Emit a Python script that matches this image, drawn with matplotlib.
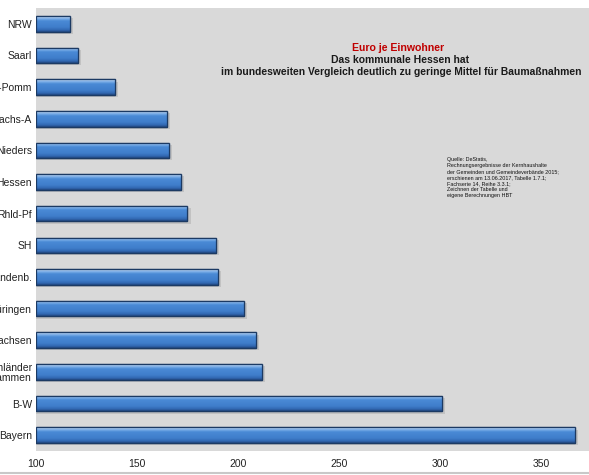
import numpy as np
import matplotlib.pyplot as plt
from matplotlib.colors import LinearSegmentedColormap

plt.rcParams['font.family'] = ['Liberation Sans', 'DejaVu Sans']

# Bundeslaender, Euro je Einwohner (top to bottom)
laender = ['NRW', 'Saarl', 'Meck-Pomm', 'Sachs-A', 'Nieders', 'Hessen', 'Rhld-Pf',
           'SH', 'Brandenb.', 'Thüringen', 'Sachsen', 'Flächenländer\nzusammen',
           'B-W', 'Bayern']
euro = [117, 121, 139, 165, 166, 172, 175, 189, 190, 203, 209, 212, 301, 367]

xticks = [100, 150, 200, 250, 300, 350]

title1 = 'Euro je Einwohner'
title2 = 'Das kommunale Hessen hat'
title3 = 'im bundesweiten Vergleich deutlich zu geringe Mittel für Baumaßnahmen'
quelle = ('Quelle: DeStatis,\n'
          'Rechnungsergebnisse der Kernhaushalte\n'
          'der Gemeinden und Gemeindeverbände 2015;\n'
          'erschienen am 13.06.2017, Tabelle 1.7.1;\n'
          'Fachserie 14, Reihe 3.3.1;\n'
          'Zeichnen der Tabelle und\n'
          'eigene Berechnungen HBT')

fig = plt.figure(figsize=(5.89, 4.75), dpi=100)
fig.patch.set_facecolor('white')
ax = fig.add_axes([36/589, 24/475, 1 - 36/589, 443/475])
ax.set_facecolor('#d9d9d9')

y = np.arange(len(laender))
h = 0.49
base = 100

# soft shadow under the bars
ax.barh(y + 0.07, np.array(euro) - base + 1.5, left=base, height=h,
        color='#c2c2c2', zorder=1)

bars = ax.barh(y, np.array(euro) - base, left=base, height=h,
               color='#3f7dca', edgecolor='#1c3a63', linewidth=0.9, zorder=2)

# bevel-like vertical gradient inside each bar
cmap = LinearSegmentedColormap.from_list('bev', [(0, '#cfe0f6'), (0.15, '#7fb0e8'),
                                                 (0.3, '#4a8ad6'), (0.7, '#3f7dca'),
                                                 (0.88, '#3268b2'), (1, '#22477f')])
grad = np.linspace(0, 1, 64).reshape(-1, 1)
for b, yy, v in zip(bars, y, euro):
    im = ax.imshow(grad, cmap=cmap, aspect='auto', zorder=2.5,
                   extent=[base, v, yy + h/2, yy - h/2], interpolation='bilinear')
    im.set_clip_path(b)
    ax.barh(yy, v - base, left=base, height=h, color='none',
            edgecolor='#1c3a63', linewidth=0.9, zorder=3)

ax.set_xlim(base, 373.8)
ax.set_ylim(len(laender) - 0.5, -0.5)
ax.set_yticks(y)
ax.set_yticklabels(laender, fontsize=7.5, color='#222222', linespacing=1.0)
ax.set_xticks(xticks)
ax.set_xticklabels([str(t) for t in xticks], fontsize=7.5, color='#222222')
ax.tick_params(length=0, pad=3)
ax.tick_params(axis='x', pad=6)
for s in ax.spines.values():
    s.set_visible(False)

fig.text(398/589, 1 - 48/475, title1, color='#c00000', fontsize=7.6,
         fontweight='bold', ha='center', va='center')
fig.text(400/589, 1 - 60/475, title2, color='#1a1a1a', fontsize=7.5,
         fontweight='bold', ha='center', va='center')
fig.text(401/589, 1 - 72/475, title3, color='#1a1a1a', fontsize=7.4,
         fontweight='bold', ha='center', va='center')
fig.text(447/589, 1 - 157/475, quelle, color='#111111', fontsize=3.9,
         ha='left', va='top', linespacing=1.25)

# thin grey frame line at the bottom
fig.add_artist(plt.Line2D([0, 1], [2/475, 2/475], color='#c8c8c8', linewidth=1.5))

fig.savefig('out.png', dpi=100)
